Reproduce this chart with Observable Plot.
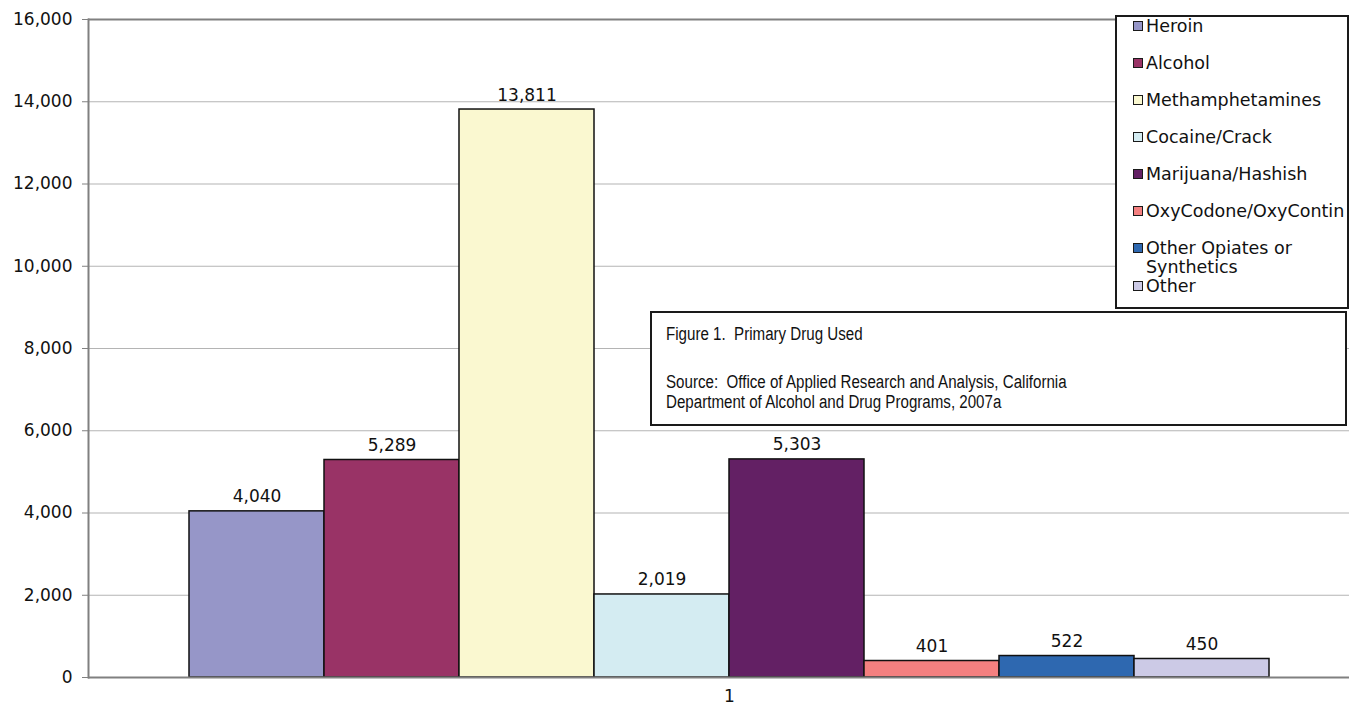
<!DOCTYPE html>
<html>
<head>
<meta charset="utf-8">
<script src="https://cdn.jsdelivr.net/npm/d3@7"></script>
<script src="https://cdn.jsdelivr.net/npm/@observablehq/plot@0.6"></script>
<style>
  html, body { margin: 0; padding: 0; background: #fff; overflow: hidden; }
  #wrap { position: relative; width: 1349px; height: 705px; overflow: hidden; }
  #legend {
    position: absolute; left: 1115px; top: 15px; width: 234px; height: 294px;
    border: 2.5px solid #1a1a1a; background: #fff; box-sizing: border-box;
    font-family: "DejaVu Sans", sans-serif; font-size: 17.5px; color: #111;
    padding-top: 0px; overflow: hidden;
  }
  .item { position: relative; padding-left: 29px; line-height: 19px; white-space: pre; }
  .sw { position: absolute; left: 16px; top: 4px; width: 8px; height: 8px; border: 1.5px solid #1a1a1a; }
  #note {
    position: absolute; left: 650px; top: 311px; width: 697px; height: 115px;
    border: 2px solid #1a1a1a; background: #fff; box-sizing: border-box;
    font-family: "Liberation Sans", Arial, sans-serif;
    font-size: 18px; color: #111; padding: 11px 0 0 14px; line-height: 20px;
  }
  #note p { margin: 0; white-space: pre; transform: scaleX(0.84); transform-origin: left center; }
  #note p.first { margin-bottom: 28px; }
</style>
</head>
<body>
<div id="wrap">
  <div id="chart"></div>
  <div id="legend"></div>
  <div id="note"></div>
</div>
<script>
const drugs = ["Heroin", "Alcohol", "Methamphetamines", "Cocaine/Crack", "Marijuana/Hashish", "OxyCodone/OxyContin", "Other Opiates or Synthetics", "Other"];
const legendLabels = ["Heroin", "Alcohol", "Methamphetamines", "Cocaine/Crack", "Marijuana/Hashish", "OxyCodone/OxyContin", "Other Opiates or\nSynthetics", "Other"];
const values = [4040, 5289, 13811, 2019, 5303, 401, 522, 450];
const colors = ["#9696C8", "#993366", "#FAF8D0", "#D4ECF2", "#632064", "#F48080", "#2E68B0", "#CCCAE6"];
const yTicks = [0, 2000, 4000, 6000, 8000, 10000, 12000, 14000, 16000];
const categoryLabels = ["1"];
const noteTitle = "Figure 1.  Primary Drug Used";
const noteSource = ["Source:  Office of Applied Research and Analysis, California", "Department of Alcohol and Drug Programs, 2007a"];

const data = drugs.map((d, i) => ({drug: d, value: values[i]}));
const fmt = d3.format(",");

const chart = Plot.plot({
  width: 1370,
  height: 705,
  marginLeft: 88,
  marginRight: 0,
  marginTop: 19,
  marginBottom: 28,
  style: {fontFamily: "DejaVu Sans, sans-serif", fontSize: "17px", color: "#111", maxWidth: "none", background: "transparent", overflow: "visible"},
  x: {domain: drugs, paddingInner: 0, paddingOuter: 0.748, axis: null},
  y: {domain: [0, 16000], axis: null},
  color: {domain: drugs, range: colors},
  marks: [
    Plot.ruleY(yTicks.filter(v => v > 0 && v < 16000), {stroke: "#b4b4b4", strokeWidth: 1.2}),
    Plot.ruleY([16000], {stroke: "#808080", strokeWidth: 2}),
    Plot.barY(data, {x: "drug", y: "value", fill: "drug", stroke: "#111", strokeWidth: 1.5}),
    Plot.ruleY([0], {stroke: "#808080", strokeWidth: 2}),
    Plot.frame({anchor: "left", stroke: "#808080", strokeWidth: 2}),
    Plot.axisY({ticks: yTicks, tickFormat: fmt, tickSize: 6, tickPadding: 10, stroke: "#808080", label: null, fontSize: 17}),
    Plot.text(data, {x: "drug", y: "value", text: d => fmt(d.value), lineAnchor: "bottom", dy: -9, fontSize: 17, fill: "#111"}),
    Plot.text(categoryLabels, {frameAnchor: "bottom", text: d => d, lineAnchor: "middle", dy: 19, fontSize: 17, fill: "#111"})
  ]
});
document.getElementById("chart").appendChild(chart);

const legend = document.getElementById("legend");
legendLabels.forEach((lab, i) => {
  const it = document.createElement("div");
  it.className = "item";
  const lines = lab.split("\n").length;
  it.style.marginBottom = (lines > 1 ? 0 : 18) + "px";
  const sw = document.createElement("span");
  sw.className = "sw";
  sw.style.background = colors[i];
  it.appendChild(sw);
  it.appendChild(document.createTextNode(lab));
  legend.appendChild(it);
});

const note = document.getElementById("note");
const p1 = document.createElement("p");
p1.className = "first";
p1.textContent = noteTitle;
note.appendChild(p1);
noteSource.forEach(t => {
  const p = document.createElement("p");
  p.textContent = t;
  note.appendChild(p);
});
</script>
</body>
</html>
